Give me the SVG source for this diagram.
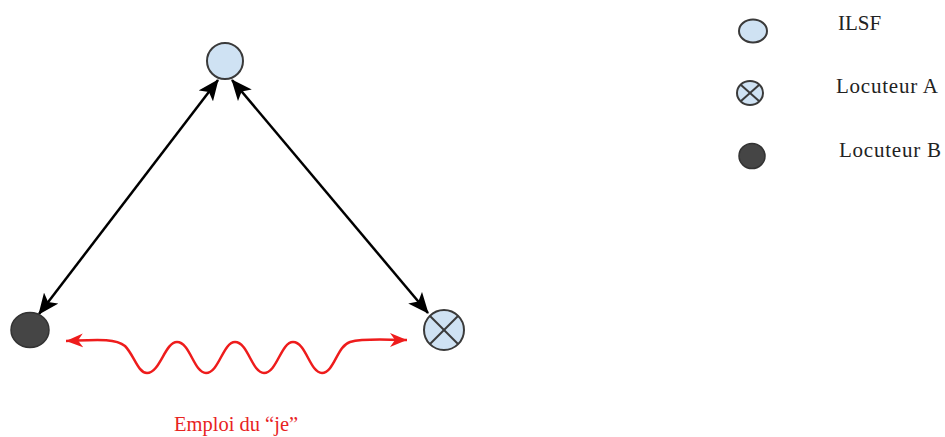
<svg xmlns="http://www.w3.org/2000/svg" width="945" height="437" viewBox="0 0 945 437">
<style>
.light{fill:#cfe2f3;stroke:#3a3a3a;stroke-width:2}
.dark{fill:#454545;stroke:#333;stroke-width:1.5}
.cross{stroke:#3a3a3a;stroke-width:2}
.blk{stroke:#000;stroke-width:2.5;fill:none}
.red{stroke:#ee1c1c;stroke-width:2.5;fill:none}
.lbl{font-family:"Liberation Serif",serif;font-size:21px;fill:#222}
.rlbl{font-family:"Liberation Serif",serif;font-size:20.5px;fill:#e8231f}
</style>
<defs>
<marker id="ab" markerWidth="22" markerHeight="18" refX="20" refY="9" orient="auto-start-reverse" markerUnits="userSpaceOnUse">
<path d="M0,0 L21,9 L0,18 L5,9 z" fill="#000"/>
</marker>
<marker id="ar" markerWidth="18" markerHeight="16" refX="17" refY="8" orient="auto-start-reverse" markerUnits="userSpaceOnUse">
<path d="M0,1 L17,8 L0,15 L5,8 z" fill="#ee1c1c"/>
</marker>
</defs>
<g id="connectors">
<line class="blk" x1="218" y1="80" x2="39" y2="314" marker-start="url(#ab)" marker-end="url(#ab)"/>
<line class="blk" x1="232" y1="80" x2="428" y2="313" marker-start="url(#ab)" marker-end="url(#ab)"/>
<path class="red" d="M66 341 C95 340,115 338,125 346 C134 355,138 373,147 373 C160 373,165 342,177 342 C190 342,194 373,206 373 C219 373,223 342,235 342 C248 342,252 373,264 373 C277 373,281 342,293 342 C306 342,310 373,322 373 C334 373,337 346,350 342 C365 338,385 340,407 340" marker-start="url(#ar)" marker-end="url(#ar)"/>
</g>
<g id="ilsf"><circle class="light" cx="225" cy="61" r="18"/></g>
<g id="locB"><ellipse class="dark" cx="30" cy="330" rx="19" ry="17.5"/></g>
<g id="locA">
<circle class="light" cx="444" cy="330" r="20"/>
<line class="cross" x1="430" y1="316" x2="458" y2="344"/>
<line class="cross" x1="458" y1="316" x2="430" y2="344"/>
</g>
<g id="label-je"><text class="rlbl" x="174" y="431">Emploi du “je”</text></g>
<g id="legend">
<g id="leg-ilsf"><ellipse class="light" cx="753" cy="31" rx="14" ry="11.5"/><text class="lbl" x="838" y="30">ILSF</text></g>
<g id="leg-a"><ellipse class="light" cx="750" cy="93" rx="13" ry="12"/><line class="cross" x1="741" y1="85" x2="759" y2="101"/><line class="cross" x1="759" y1="85" x2="741" y2="101"/><text class="lbl" x="836" y="93" textLength="102">Locuteur A</text></g>
<g id="leg-b"><ellipse class="dark" cx="752" cy="156" rx="13" ry="12.5"/><text class="lbl" x="839" y="157" textLength="102">Locuteur B</text></g>
</g>
</svg>
